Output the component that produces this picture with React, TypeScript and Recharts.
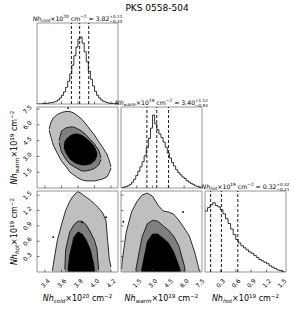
import React from "react";
import {
  ComposedChart,
  Line,
  Area,
  Scatter,
  XAxis,
  YAxis,
  ReferenceLine,
  ReferenceArea,
} from "recharts";

const title = "PKS 0558-504";

// parameter ranges and ticks
const coldDomain = [3.303, 4.285];
const warmDomain = [0, 7.7];
const hotDomain = [0, 1.58];
const coldTicks = [3.4, 3.6, 3.8, 4.0, 4.2];
const warmTicks = [1.5, 3.0, 4.5, 6.0, 7.5];
const hotTicks = [0.3, 0.6, 0.9, 1.2, 1.5];

// 1D marginal histograms (left bin edge = start + i * step)
const coldStart = 3.3;
const coldStep = 0.025;
const coldCounts = [
  0, 0, 0, 1, 1, 1, 2, 2, 3, 4, 6, 9, 13, 18, 25, 34, 45, 58, 72, 85, 97, 100,
  91, 78, 63, 49, 37, 27, 19, 13, 9, 6, 4, 3, 2, 1, 1, 0, 1, 0,
];
const warmStart = 0;
const warmStep = 0.2;
const warmCounts = [
  0, 1, 2, 3, 5, 8, 12, 17, 23, 29, 36, 44, 55, 68, 82, 100, 88, 80, 74, 69,
  63, 56, 48, 41, 35, 30, 25, 21, 18, 15, 13, 10, 8, 6, 5, 3, 2, 1, 0,
];
const hotStart = 0;
const hotStep = 0.05;
const hotCounts = [
  88, 93, 97, 100, 96, 94, 90, 84, 77, 70, 62, 54, 47, 42, 38, 35, 32, 29, 27,
  24, 21, 18, 16, 14, 12, 9, 7, 5, 3, 2, 1, 1,
];
const coldQuant = [3.72, 3.82, 3.93];
const warmQuant = [2.46, 3.4, 4.52];
const hotQuant = [0.11, 0.32, 0.64];

// cold vs warm contours (range at each cold value)
const cwOuterX = [3.45, 3.47, 3.5, 3.55, 3.6, 3.65, 3.7, 3.75, 3.8, 3.85, 3.9, 3.95, 4.0, 4.05, 4.1, 4.15, 4.18, 4.2];
const cwOuterLo = [5.5, 4.9, 4.09, 3.28, 2.57, 2.09, 1.52, 1.24, 0.95, 0.76, 0.67, 0.67, 0.67, 0.76, 0.86, 1.05, 1.45, 1.9];
const cwOuterHi = [5.6, 6.2, 6.65, 6.99, 7.18, 7.27, 7.27, 7.13, 6.84, 6.51, 6.04, 5.51, 5.04, 4.42, 3.85, 3.23, 2.6, 2.0];
const cwMidX = [3.57, 3.6, 3.65, 3.7, 3.75, 3.8, 3.85, 3.9, 3.95, 4.0, 4.05, 4.08];
const cwMidLo = [4.3, 3.42, 2.76, 2.28, 2.04, 1.81, 1.62, 1.62, 1.71, 1.85, 2.19, 2.7];
const cwMidHi = [4.5, 5.42, 5.7, 5.8, 5.8, 5.61, 5.37, 5.04, 4.61, 4.18, 3.61, 2.9];
const cwInX = [3.63, 3.65, 3.7, 3.75, 3.8, 3.85, 3.9, 3.95, 4.0, 4.03];
const cwInLo = [3.9, 3.42, 2.76, 2.47, 2.28, 2.19, 2.19, 2.28, 2.57, 3.1];
const cwInHi = [4.1, 4.56, 4.94, 5.13, 5.13, 4.99, 4.71, 4.37, 3.9, 3.3];
const cwDotX = [3.68];
const cwDotY = [7.6];

// cold vs hot contours (hot bounded at 0)
const chOuterX = [3.49, 3.5, 3.55, 3.6, 3.65, 3.7, 3.75, 3.8, 3.85, 3.9, 3.95, 4.0, 4.05, 4.1, 4.14, 4.16, 4.18, 4.2];
const chOuterHi = [0.02, 0.14, 0.62, 0.92, 1.2, 1.38, 1.5, 1.57, 1.52, 1.46, 1.4, 1.33, 1.25, 1.15, 1.0, 0.6, 0.25, 0.1];
const chMidX = [3.64, 3.65, 3.7, 3.75, 3.8, 3.85, 3.9, 3.95, 4.0, 4.03, 4.05];
const chMidHi = [0.05, 0.43, 0.78, 0.92, 0.99, 0.99, 0.92, 0.78, 0.62, 0.45, 0.05];
const chInX = [3.68, 3.7, 3.75, 3.8, 3.85, 3.9, 3.95, 3.99, 4.0];
const chInHi = [0.05, 0.33, 0.68, 0.78, 0.74, 0.62, 0.43, 0.15, 0.03];
const chDotX = [3.5, 3.85, 4.14];
const chDotY = [0.68, 0.97, 1.07];

// warm vs hot contours
const whOuterX = [0.05, 0.1, 0.5, 1.0, 1.5, 2.0, 2.5, 3.0, 3.5, 4.0, 4.5, 5.0, 5.5, 6.0, 6.5, 7.0, 7.3, 7.45];
const whOuterHi = [0.05, 0.2, 0.78, 1.17, 1.37, 1.5, 1.54, 1.48, 1.31, 1.19, 1.17, 1.13, 1.01, 0.86, 0.7, 0.39, 0.15, 0.02];
const whMidX = [1.4, 1.5, 2.0, 2.5, 3.0, 3.5, 4.0, 4.5, 5.0, 5.5, 6.0, 6.1];
const whMidHi = [0.03, 0.14, 0.68, 0.94, 1.01, 0.99, 0.9, 0.82, 0.7, 0.51, 0.14, 0.02];
const whInX = [1.95, 2.0, 2.5, 3.0, 3.5, 4.0, 4.5, 5.0, 5.5, 5.65];
const whInHi = [0.02, 0.08, 0.59, 0.74, 0.74, 0.66, 0.57, 0.39, 0.12, 0.02];
const whDotX = [0.22, 5.9];
const whDotY = [0.98, 1.17];

const SIZE = 81;
const PL = 40;
const PT = 12;
const PR = 8;
const PB = 30;
const colLeft = [37, 121, 205];
const rowTop = [23, 107, 191];
const FONT = "DejaVu Sans, sans-serif";
const FRAME = "#8a8a8a";
const LIGHT = "#bfbfbf";
const MID = "#7f7f7f";

const histRows = (start: number, step: number, counts: number[]) =>
  counts.map((c, i) => ({ x: +(start + i * step).toFixed(3), c }));

type Layer = { key: string; x: number[]; lo?: number[]; hi: number[] };

function contourRows(layers: Layer[]) {
  const xs = Array.from(new Set(layers.flatMap((l) => l.x))).sort((a, b) => a - b);
  return xs.map((x) => {
    const row: any = { x };
    layers.forEach((l) => {
      const i = l.x.indexOf(x);
      row[l.key] = i < 0 ? null : l.lo ? [l.lo[i], l.hi[i]] : l.hi[i];
    });
    return row;
  });
}

const dots = (xs: number[], ys: number[]) => xs.map((x, i) => ({ x, y: ys[i] }));

function XTick(props: any) {
  const { x, y, payload, show } = props;
  const ly = y + 11;
  return (
    <g>
      <line x1={x} x2={x} y1={y} y2={y - 2.5} stroke="#333" strokeWidth={0.7} />
      {show && (
        <text
          x={x}
          y={ly}
          textAnchor="middle"
          dominantBaseline="central"
          fontSize={6}
          fontFamily={FONT}
          fill="#000"
          transform={`rotate(-45 ${x} ${ly})`}
        >
          {Number(payload.value).toFixed(1)}
        </text>
      )}
    </g>
  );
}

function YTick(props: any) {
  const { x, y, payload, show } = props;
  const lx = x - 10;
  return (
    <g>
      <line x1={x} x2={x + 2.5} y1={y} y2={y} stroke="#333" strokeWidth={0.7} />
      {show && (
        <text
          x={lx}
          y={y}
          textAnchor="middle"
          dominantBaseline="central"
          fontSize={6}
          fontFamily={FONT}
          fill="#000"
          transform={`rotate(-45 ${lx} ${y})`}
        >
          {Number(payload.value).toFixed(1)}
        </text>
      )}
    </g>
  );
}

function Panel(props: any) {
  const { col, row, data, xDomain, yDomain, xTicks, yTicks, showX, showY, children } = props;
  return (
    <div style={{ position: "absolute", left: colLeft[col] - PL, top: rowTop[row] - PT }}>
      <ComposedChart
        width={SIZE + PL + PR}
        height={SIZE + PT + PB}
        data={data}
        margin={{ top: PT, right: PR, left: 0, bottom: 0 }}
      >
        <XAxis
          dataKey="x"
          type="number"
          domain={xDomain}
          ticks={xTicks}
          interval={0}
          allowDataOverflow
          height={PB}
          tickSize={0}
          tickMargin={0}
          axisLine={false}
          tickLine={false}
          tick={(p: any) => <XTick {...p} show={showX} />}
        />
        <YAxis
          type="number"
          domain={yDomain}
          ticks={yTicks}
          interval={0}
          allowDataOverflow
          width={PL}
          tickSize={0}
          tickMargin={0}
          axisLine={false}
          tickLine={false}
          tick={yTicks ? (p: any) => <YTick {...p} show={showY} /> : false}
        />
        {children}
        <ReferenceArea
          x1={xDomain[0]}
          x2={xDomain[1]}
          y1={yDomain[0]}
          y2={yDomain[1]}
          fill="none"
          stroke={FRAME}
          strokeWidth={0.9}
          ifOverflow="visible"
        />
      </ComposedChart>
    </div>
  );
}

function hist(counts: any[], quant: number[]) {
  return [
    <Line
      key="h"
      dataKey="c"
      type="stepAfter"
      stroke="#000"
      strokeWidth={0.8}
      dot={false}
      activeDot={false}
      isAnimationActive={false}
    />,
    ...quant.map((q, i) => (
      <ReferenceLine key={"q" + i} x={q} stroke="#000" strokeWidth={0.9} strokeDasharray="3 2" />
    )),
  ];
}

function contours(points: any[]) {
  const common = {
    type: "linear" as const,
    stroke: "#000",
    strokeWidth: 0.8,
    fillOpacity: 1,
    connectNulls: true,
    dot: false,
    activeDot: false,
    isAnimationActive: false,
    baseValue: 0,
  };
  return [
    <Area key="o" dataKey="outer" fill={LIGHT} {...common} />,
    <Area key="m" dataKey="mid" fill={MID} {...common} />,
    <Area key="i" dataKey="inner" fill="#000" {...common} />,
    <Scatter
      key="s"
      data={points}
      dataKey="y"
      isAnimationActive={false}
      shape={(p: any) => <circle cx={p.cx} cy={p.cy} r={0.9} fill="#000" />}
    />,
  ];
}

function Param({ name }: { name: string }) {
  return null;
}

function mathLabel(name: string, exp: string, fs: number) {
  const s = fs * 0.7;
  return [
    <tspan key="a" fontStyle="italic">Nh</tspan>,
    <tspan key="b" fontStyle="italic" fontSize={s} dy={fs * 0.22}>{name}</tspan>,
    <tspan key="c" dy={-fs * 0.22}>×10</tspan>,
    <tspan key="d" fontSize={s} dy={-fs * 0.38}>{exp}</tspan>,
    <tspan key="e" dy={fs * 0.38}>{" cm"}</tspan>,
    <tspan key="f" fontSize={s} dy={-fs * 0.38}>−2</tspan>,
  ];
}

const charW: Record<string, number> = { "+": 0.838, "−": 0.838, ".": 0.318 };
const textWidth = (t: string, fs: number) =>
  t.split("").reduce((w, ch) => w + (charW[ch] ?? 0.636), 0) * fs;

function HistTitle(props: any) {
  const { cx, y, name, exp, value, plus, minus } = props;
  const fs = 6.2;
  const ss = 4.2;
  return (
    <text x={cx} y={y} textAnchor="middle" fontSize={fs} fontFamily={FONT} fill="#000">
      {mathLabel(name, exp, fs)}
      <tspan dy={fs * 0.38}>{" = " + value}</tspan>
      <tspan fontSize={ss} dy={-2.6}>{plus}</tspan>
      <tspan fontSize={ss} dx={-textWidth(plus, ss)} dy={4.6}>{minus}</tspan>
    </text>
  );
}

export default function App() {
  const coldHist = histRows(coldStart, coldStep, coldCounts);
  const warmHist = histRows(warmStart, warmStep, warmCounts);
  const hotHist = histRows(hotStart, hotStep, hotCounts);

  const cwRows = contourRows([
    { key: "outer", x: cwOuterX, lo: cwOuterLo, hi: cwOuterHi },
    { key: "mid", x: cwMidX, lo: cwMidLo, hi: cwMidHi },
    { key: "inner", x: cwInX, lo: cwInLo, hi: cwInHi },
  ]);
  const chRows = contourRows([
    { key: "outer", x: chOuterX, hi: chOuterHi },
    { key: "mid", x: chMidX, hi: chMidHi },
    { key: "inner", x: chInX, hi: chInHi },
  ]);
  const whRows = contourRows([
    { key: "outer", x: whOuterX, hi: whOuterHi },
    { key: "mid", x: whMidX, hi: whMidHi },
    { key: "inner", x: whInX, hi: whInHi },
  ]);

  const axisFs = 8;

  return (
    <div style={{ position: "absolute", left: 0, top: 0, width: 294, height: 309, background: "#fff" }}>
      <Panel col={0} row={0} data={coldHist} xDomain={coldDomain} yDomain={[0, 121]} xTicks={coldTicks}>
        {hist(coldHist, coldQuant)}
      </Panel>
      <Panel col={1} row={1} data={warmHist} xDomain={warmDomain} yDomain={[0, 111]} xTicks={warmTicks}>
        {hist(warmHist, warmQuant)}
      </Panel>
      <Panel col={2} row={2} data={hotHist} xDomain={hotDomain} yDomain={[0, 117]} xTicks={hotTicks} showX>
        {hist(hotHist, hotQuant)}
      </Panel>
      <Panel
        col={0}
        row={1}
        data={cwRows}
        xDomain={coldDomain}
        yDomain={warmDomain}
        xTicks={coldTicks}
        yTicks={warmTicks}
        showY
      >
        {contours(dots(cwDotX, cwDotY))}
      </Panel>
      <Panel
        col={0}
        row={2}
        data={chRows}
        xDomain={coldDomain}
        yDomain={hotDomain}
        xTicks={coldTicks}
        yTicks={hotTicks}
        showX
        showY
      >
        {contours(dots(chDotX, chDotY))}
      </Panel>
      <Panel
        col={1}
        row={2}
        data={whRows}
        xDomain={warmDomain}
        yDomain={hotDomain}
        xTicks={warmTicks}
        yTicks={hotTicks}
        showX
      >
        {contours(dots(whDotX, whDotY))}
      </Panel>

      <svg
        width={294}
        height={309}
        style={{ position: "absolute", left: 0, top: 0, pointerEvents: "none" }}
      >
        <text x={157} y={11} textAnchor="middle" fontSize={9} fontFamily={FONT} fill="#000">
          {title}
        </text>
        <HistTitle cx={77.5} y={20.5} name="cold" exp="20" value="3.82" plus="+0.11" minus="−0.10" />
        <HistTitle cx={161.5} y={104.5} name="warm" exp="19" value="3.40" plus="+1.12" minus="−0.94" />
        <HistTitle cx={245.5} y={188.5} name="hot" exp="19" value="0.32" plus="+0.32" minus="−0.21" />

        <text x={77.5} y={301} textAnchor="middle" fontSize={axisFs} fontFamily={FONT} fill="#000">
          {mathLabel("cold", "20", axisFs)}
        </text>
        <text x={161.5} y={301} textAnchor="middle" fontSize={axisFs} fontFamily={FONT} fill="#000">
          {mathLabel("warm", "19", axisFs)}
        </text>
        <text x={245.5} y={301} textAnchor="middle" fontSize={axisFs} fontFamily={FONT} fill="#000">
          {mathLabel("hot", "19", axisFs)}
        </text>
        <text
          x={17}
          y={147.5}
          textAnchor="middle"
          fontSize={axisFs}
          fontFamily={FONT}
          fill="#000"
          transform="rotate(-90 17 147.5)"
        >
          {mathLabel("warm", "19", axisFs)}
        </text>
        <text
          x={17}
          y={231.5}
          textAnchor="middle"
          fontSize={axisFs}
          fontFamily={FONT}
          fill="#000"
          transform="rotate(-90 17 231.5)"
        >
          {mathLabel("hot", "19", axisFs)}
        </text>
      </svg>
    </div>
  );
}
